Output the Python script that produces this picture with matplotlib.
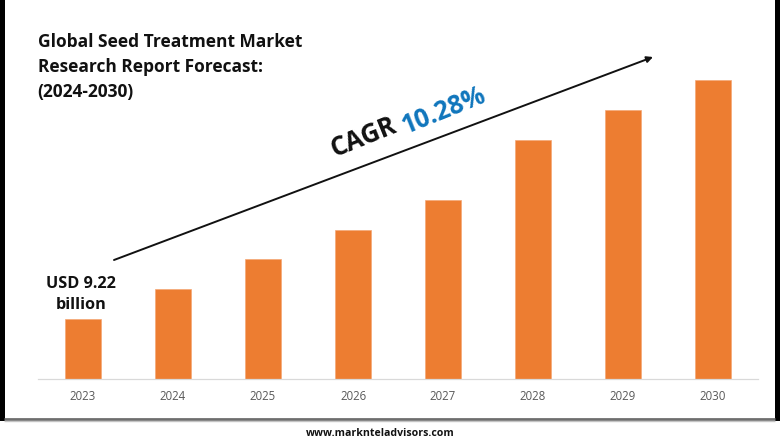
import matplotlib
matplotlib.use("Agg")
import matplotlib.pyplot as plt

years = ["2023", "2024", "2025", "2026", "2027", "2028", "2029", "2030"]
bar_values = [2.0, 3.0, 4.0, 4.97, 5.97, 7.97, 8.97, 9.97]

W, H = 780, 440
plt.rcParams["font.family"] = "Open Sans"
fig = plt.figure(figsize=(W / 100, H / 100), dpi=100, facecolor="white")

# full-figure pixel overlay for decoration
bg = fig.add_axes([0, 0, 1, 1])
bg.set_xlim(0, W)
bg.set_ylim(H, 0)
bg.axis("off")
bg.fill_between([0, 4.5], 0, 421, color="black", lw=0)
bg.fill_between([775, 780], 0, 421, color="black", lw=0)
bg.plot([4, 775], [419, 419], color="#6e6e6e", lw=2.0, solid_capstyle="butt")
bg.plot([4, 775], [420.6, 420.6], color="#c4c4c4", lw=1.0, solid_capstyle="butt")

# chart axes: x from 38 to 758 px, y baseline at 379 px, 30 px per unit
left, right, base, top = 38, 758, 379, 49
ax = fig.add_axes([left / W, 1 - base / H, (right - left) / W, (base - top) / H])
ax.patch.set_alpha(0)
ax.bar(range(len(years)), bar_values, width=0.4, color="#ed7d31", edgecolor="#f4a877", linewidth=0.5)
ax.set_xlim(-0.5, len(years) - 0.5)
ax.set_ylim(0, 11)
ax.set_xticks(range(len(years)))
ax.set_xticklabels(years, fontsize=8.3, color="#595959")
ax.set_yticks([])
ax.tick_params(axis="x", length=0, pad=7.8)
for s in ["top", "left", "right"]:
    ax.spines[s].set_visible(False)
ax.spines["bottom"].set_color("#d9d9d9")
ax.spines["bottom"].set_linewidth(0.9)

bg.set_zorder(3)
ax.set_zorder(2)

bg.text(37.5, 42, "Global Seed Treatment Market", fontsize=12.55, fontweight="bold", color="#111111", va="center", ha="left")
bg.text(37.5, 66.5, "Research Report Forecast:", fontsize=12.55, fontweight="bold", color="#111111", va="center", ha="left")
bg.text(37.5, 91.5, "(2024-2030)", fontsize=12.55, fontweight="bold", color="#111111", va="center", ha="left")

bg.text(81, 284, "USD 9.22", fontsize=11.7, fontweight="bold", color="#111111", va="center", ha="center")
bg.text(81, 305, "billion", fontsize=11.7, fontweight="bold", color="#111111", va="center", ha="center")
bg.text(380, 433, "www.marknteladvisors.com", fontsize=7.55, fontweight="bold", color="#111111", va="center", ha="center")

bg.annotate("", xy=(653, 57), xytext=(114, 260),
            arrowprops=dict(arrowstyle="-|>", color="#111111", lw=1.4, mutation_scale=9, shrinkA=0, shrinkB=0))

bg.text(364, 137.5, "CAGR", fontsize=18.4, fontweight="bold", color="#111111", rotation=22, va="center", ha="center", rotation_mode="anchor")
bg.text(444, 110, "10.28%", fontsize=18.4, fontweight="bold", color="#0f75bc", rotation=22, va="center", ha="center", rotation_mode="anchor")

fig.savefig("out.png", dpi=100, facecolor="white")
